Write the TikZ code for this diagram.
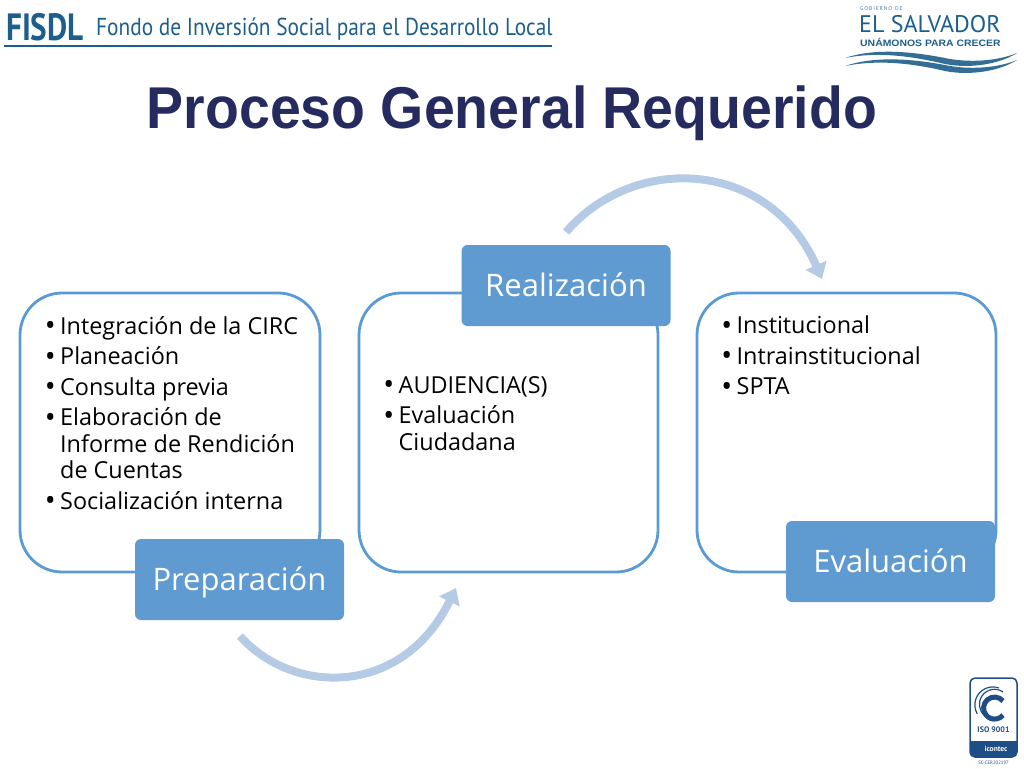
\documentclass[tikz,border=0pt]{standalone}
\usepackage{fontspec}
\usepackage{tikz}
\usepackage{xcolor}
\usetikzlibrary{arrows.meta}
\setmainfont{Open Sans}
\newfontfamily\titlefont[FakeStretch=0.94]{Liberation Sans}
\newfontfamily\logofont{PT Sans}
\newfontfamily\logonarrow[FakeStretch=0.87]{PT Sans}
\newfontfamily\fisdlfont[FakeStretch=0.82]{PT Sans}
\newfontfamily\wordmark[FakeStretch=1.12]{Liberation Sans}
\definecolor{boxblue}{HTML}{5B9BD5}
\definecolor{stageblue}{HTML}{5F9AD1}
\definecolor{arrowblue}{HTML}{B5CBE5}
\definecolor{titleblue}{HTML}{252B5F}
\definecolor{logoblue}{HTML}{1C5E8C}
\definecolor{isoblue}{HTML}{1F4E86}
\newcommand{\itembullet}{\raisebox{-1.5pt}{\fontsize{29}{26.5}\selectfont\textbullet}}
\newcommand{\itemlist}[1]{\begin{minipage}{#1}\fontsize{23.4}{26.5}\selectfont
    \begin{list}{\itembullet}{\setlength{\leftmargin}{15.5pt}\setlength{\labelwidth}{11pt}\setlength{\labelsep}{4.5pt}\setlength{\itemsep}{4pt}\setlength{\parsep}{0pt}\setlength{\topsep}{0pt}\setlength{\partopsep}{0pt}}\raggedright}
\newcommand{\itemlistend}{\end{list}\end{minipage}}
\tikzset{
    list-box/.style = {draw=boxblue, fill=white, line width=2.8pt, rounded corners=42pt},
    stage-box/.style = {fill=stageblue, text=white, rectangle, rounded corners=6pt, minimum width=209pt, minimum height=81pt, inner sep=0pt, text height=22pt, text depth=0pt, font=\fontsize{31}{36}\selectfont},
    list-text/.style = {anchor=north west, inner sep=0pt, text=black},
    flow-arrow/.style = {draw=arrowblue, line width=8pt, -{Triangle[length=15pt,width=22pt]}},
    title-text/.style = {text=titleblue, font=\titlefont\bfseries\fontsize{59}{64}\selectfont},
    wave/.style = {fill=logoblue!90},
}
\begin{document}
\begin{tikzpicture}[x=1pt,y=-1pt]
\useasboundingbox (0,0) rectangle (1024,768);

% header logos
\node[anchor=west, inner sep=0pt, text=logoblue, font=\fisdlfont\bfseries\fontsize{38}{40}\selectfont] (fisdl) at (6,27) {FISDL};
\node[anchor=west, inner sep=0pt, text=logoblue, font=\logonarrow\fontsize{24.5}{28}\selectfont] (fisdl-name) at (96,29) {Fondo de Inversión Social para el Desarrollo Local};
\draw[logoblue, line width=2.5pt] (4,46) -- (552,46);
\node[anchor=west, inner sep=0pt, text=logoblue!80, font=\logofont\fontsize{5.5}{6}\selectfont] (gov) at (860,9) {G\,O\,B\,I\,E\,R\,N\,O\ \ D\,E};
\node[anchor=west, inner sep=0pt, text=logoblue, font=\logofont\fontsize{24}{28}\selectfont] (salvador) at (859,24) {EL SALVADOR};
\node[anchor=west, inner sep=0pt, text=logoblue, font=\wordmark\bfseries\fontsize{9.3}{12}\selectfont] (crecer) at (860,42) {UNÁMONOS PARA CRECER};
\fill[wave] (845,58) .. controls (880,46) and (925,54) .. (950,59) .. controls (975,63) and (1000,60) .. (1017,53) .. controls (1000,64) and (970,69) .. (945,64) .. controls (915,57) and (880,51) .. (845,58) -- cycle;
\fill[wave] (845,66) .. controls (880,54) and (925,61) .. (950,66) .. controls (975,70) and (1000,67) .. (1017,60) .. controls (1000,71) and (970,76) .. (945,71) .. controls (915,64) and (880,59) .. (845,66) -- cycle;

\node[title-text] (title) at (512,113) {Proceso General Requerido};

% flow arrows
\coordinate (top-start) at (566,232);
\coordinate (top-end) at (822,279);
\coordinate (bottom-start) at (240,636);
\coordinate (bottom-end) at (456,588);
\draw[flow-arrow] (top-start) .. controls (635,152) and (770,160) .. (top-end);
\draw[flow-arrow] (bottom-start) .. controls (292,695) and (402,698) .. (bottom-end);

% boxes
\draw[list-box] (20,293) rectangle (320,572);
\draw[list-box] (359,293) rectangle (658,572);
\draw[list-box] (697,293) rectangle (996,572);
\node[stage-box] (preparacion) at (239.5,579.5) {Preparación};
\node[stage-box] (realizacion) at (566,285.5) {Realización};
\node[stage-box] (evaluacion) at (890.5,561.5) {Evaluación};

% lists
\node[list-text] (list-prep) at (44.5,316) {\itemlist{265pt}
    \item Integración de la CIRC
    \item Planeación
    \item Consulta previa
    \item Elaboración de\\ Informe de Rendición\\ de Cuentas
    \item Socialización interna
\itemlistend};
\node[list-text] (list-real) at (383,376) {\itemlist{250pt}
    \item AUDIENCIA(S)
    \item Evaluación\\ Ciudadana
\itemlistend};
\node[list-text] (list-eval) at (721,316) {\itemlist{250pt}
    \item Institucional
    \item Intrainstitucional
    \item SPTA
\itemlistend};

% certification mark
\draw[isoblue, line width=1.5pt, rounded corners=5pt] (970,678) rectangle (1017,757);
\fill[isoblue] (970,741) [rounded corners=5pt] -- (970,757) -- (1017,757) [sharp corners] -- (1017,741) -- cycle;
\draw[isoblue, line width=5pt] (1003,701) arc (-40:-320:11);
\draw[isoblue, line width=1.2pt] (1003,692) arc (-55:-230:15);
\draw[isoblue, line width=1.2pt] (999,688) arc (-70:-210:18);
\node[inner sep=0pt, text=isoblue, font=\logofont\bfseries\fontsize{8}{9}\selectfont] (iso) at (993.5,730) {ISO 9001};
\node[inner sep=0pt, text=white, font=\logofont\bfseries\fontsize{7.5}{8}\selectfont] (icontec) at (996,749) {icontec};
\node[inner sep=0pt, text=isoblue, font=\logofont\fontsize{4.8}{5}\selectfont] (cert) at (993.5,763) {SC-CER202197};
\end{tikzpicture}
\end{document}
